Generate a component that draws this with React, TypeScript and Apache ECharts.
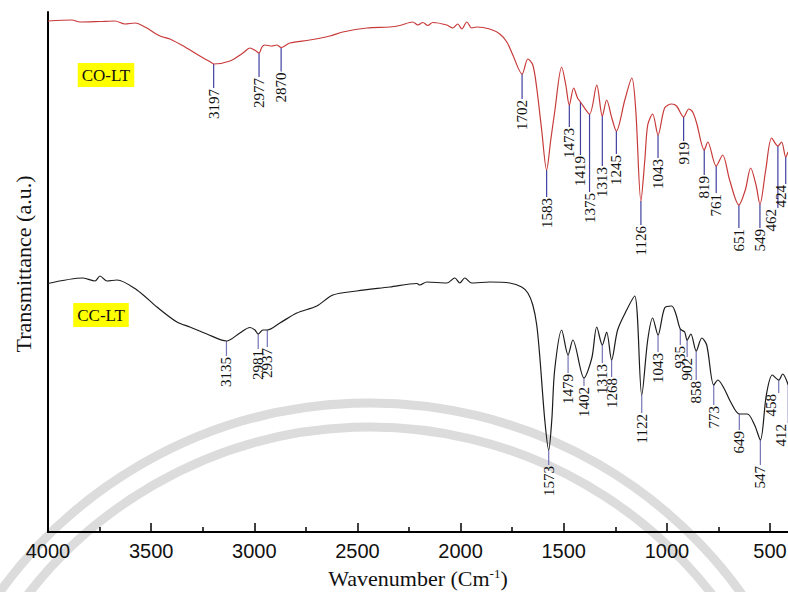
import React, { useEffect, useRef } from 'react';
import * as echarts from 'echarts';

// CO-LT spectrum (red, upper trace)
const coWavenumbers = [4000,3884,3845,3748,3675,3627,3578,3530,3457,3409,3336,3264,3205,3197,3118,3055,3021,2992,2977,2963,2949,2915,2891,2870,2828,2731,2634,2571,2454,2343,2295,2232,2207,2183,2159,2135,2067,2038,2014,1994,1970,1946,1922,1859,1810,1776,1747,1702,1674,1650,1631,1607,1583,1563,1544,1510,1490,1473,1452,1433,1419,1375,1340,1313,1292,1267,1245,1204,1170,1151,1126,1107,1093,1069,1043,1011,977,953,919,894,875,856,819,802,761,730,696,651,620,594,568,549,521,492,462,444,424,413];
const coTransmittance = [102.2,102.4,102.0,102.1,102.2,101.6,101.8,101.0,99.2,98.6,97.0,95.2,93.8,93.6,94.2,95.8,96.8,96.2,95.8,97.0,97.4,97.2,97.4,96.9,97.8,98.4,99.2,100.0,100.8,101.0,101.3,102.0,101.4,101.9,101.3,101.9,101.4,100.8,101.6,100.6,102.0,100.8,101.0,100.6,99.6,98.0,95.4,91.6,94.6,93.4,88.8,80.4,72.4,78.4,84.0,93.0,89.4,85.4,88.8,86.8,86.0,83.6,89.4,83.2,86.4,82.8,80.2,86.4,90.8,84.4,66.2,74.4,81.4,83.6,79.4,84.8,85.6,85.2,83.0,84.6,84.0,81.8,76.4,78.0,73.2,75.4,70.4,65.4,68.4,72.8,69.4,65.6,72.4,78.8,77.2,78.0,75.0,76.0];

// CC-LT spectrum (black, lower trace)
const ccWavenumbers = [4000,3830,3772,3748,3714,3666,3569,3472,3375,3312,3230,3135,3070,3021,2997,2981,2958,2937,2876,2794,2697,2619,2503,2343,2212,2198,2164,2067,2028,2004,1980,1946,1859,1762,1704,1674,1650,1631,1616,1592,1573,1558,1544,1510,1479,1456,1402,1364,1340,1313,1292,1268,1239,1195,1156,1122,1093,1069,1043,1011,977,958,935,914,902,884,858,831,807,773,753,724,691,649,610,575,547,518,489,458,439,412];
const ccTransmittance = [49.7,50.8,50.2,51.2,50.2,50.4,48.4,45.0,42.0,41.0,39.6,38.2,39.8,40.9,40.4,39.6,40.4,40.4,41.8,43.8,45.2,47.4,48.2,49.0,49.7,49.4,50.0,49.8,50.8,49.8,50.8,49.8,50.0,49.8,49.0,47.8,45.4,41.4,35.0,22.4,16.4,22.4,32.4,40.4,35.4,38.4,30.8,34.8,41.0,37.4,40.0,34.4,40.4,44.4,47.2,27.4,38.4,42.8,39.4,44.8,45.2,43.8,40.6,40.0,38.4,39.6,36.2,38.8,37.4,29.4,30.4,28.8,26.0,23.6,23.6,21.4,18.4,27.4,31.4,30.4,31.6,29.4];

// labelled bands
const coPeaks = [3197,2977,2870,1702,1583,1473,1419,1375,1313,1245,1126,1043,919,819,761,651,549,462,424];
const ccPeaks = [3135,2981,2937,1573,1479,1402,1313,1268,1122,1043,935,902,858,773,649,547,458,412];

// axis ticks
const xTickLabels = [4000,3500,3000,2500,2000,1500,1000,500];
const xMinorTicks = [3750,3250,2750,2250,1750,1250,750];

// layout: stem length (px) below each labelled band, and small label nudges (px)
const coStem = [24,24,24,25,27,22,53,78,50,23,24,23,24,25,27,23,24,62,27];
const ccStem = [15,15,17,15,18,8,18,17,18,17,16,17,29,20,16,25,13,38];
const coLabelNudge: Record<number, number> = { 462: -7 };
const ccLabelNudge: Record<number, number> = { 458: -8 };

function interp(wns: number[], vals: number[], w: number): number {
  for (let i = 0; i < wns.length - 1; i++) {
    const a = wns[i], b = wns[i + 1];
    if ((w <= a && w >= b)) {
      const t = a === b ? 0 : (a - w) / (a - b);
      return vals[i] + t * (vals[i + 1] - vals[i]);
    }
  }
  return vals[vals.length - 1];
}

const SERIF = '"Liberation Serif", "Times New Roman", serif';
const SANS = '"Liberation Sans", Arial, sans-serif';
const CHART_W = 788;

function peakRenderer(stroke: string, nudge: Record<number, number>) {
  return (_params: any, api: any) => {
    const wn = api.value(0);
    const p = api.coord([wn, api.value(1)]);
    const len = api.value(2);
    const tx = Math.min(p[0] + (nudge[wn] || 0), CHART_W - 7);
    return {
      type: 'group',
      children: [
        {
          type: 'line',
          shape: { x1: p[0], y1: p[1], x2: p[0], y2: p[1] + len },
          style: { stroke, lineWidth: 1.2 },
        },
        {
          type: 'text',
          x: tx,
          y: p[1] + len + 1,
          rotation: Math.PI / 2,
          style: {
            text: String(wn),
            fill: '#111',
            fontSize: 15,
            fontFamily: SERIF,
            align: 'right',
            verticalAlign: 'middle',
          },
        },
      ],
    };
  };
}

export default function App() {
  const ref = useRef<HTMLDivElement>(null);
  useEffect(() => {
    const chart = echarts.init(ref.current!, null, { renderer: 'svg' });
    const coData = coWavenumbers.map((w, i) => [w, coTransmittance[i]]);
    const ccData = ccWavenumbers.map((w, i) => [w, ccTransmittance[i]]);
    const coPeakData = coPeaks.map((w, i) => [w, interp(coWavenumbers, coTransmittance, w), coStem[i]]);
    const ccPeakData = ccPeaks.map((w, i) => [w, interp(ccWavenumbers, ccTransmittance, w), ccStem[i]]);

    chart.setOption({
      animation: false,
      backgroundColor: '#ffffff',
      grid: { left: 48, top: 12, right: 0, bottom: 60, containLabel: false, outerBoundsMode: 'none' },
      xAxis: [
        {
          type: 'value',
          inverse: true,
          min: 413,
          max: 4000,
          position: 'bottom',
          axisLine: { show: true, onZero: false, lineStyle: { color: '#000', width: 2 } },
          axisTick: { show: true, inside: true, length: 9, customValues: xTickLabels, lineStyle: { color: '#000', width: 1.5 } },
          axisLabel: {
            customValues: xTickLabels,
            formatter: (v: number) => String(v),
            color: '#111',
            fontSize: 20,
            fontFamily: SANS,
            margin: 9,
          },
          splitLine: { show: false },
          name: 'Wavenumber (Cm{sup|-1})',
          nameLocation: 'middle',
          nameGap: 35,
          nameTextStyle: {
            color: '#111',
            fontSize: 22,
            fontFamily: SERIF,
            rich: { sup: { fontSize: 13, fontFamily: SERIF, color: '#111', verticalAlign: 'top' } },
          },
        },
        {
          type: 'value',
          inverse: true,
          min: 413,
          max: 4000,
          position: 'bottom',
          axisLine: { show: false, onZero: false },
          axisTick: { show: true, inside: true, length: 5, customValues: xMinorTicks, lineStyle: { color: '#000', width: 1.5 } },
          axisLabel: { show: false },
          splitLine: { show: false },
        },
      ],
      yAxis: {
        type: 'value',
        min: 0,
        max: 104,
        axisLine: { show: true, onZero: false, lineStyle: { color: '#000', width: 2 } },
        axisTick: { show: false },
        axisLabel: { show: false },
        splitLine: { show: false },
      },
      graphic: [
        {
          type: 'circle',
          z: -10,
          silent: true,
          shape: { cx: 370, cy: 860, r: 457 },
          style: { fill: 'none', stroke: '#dcdcdc', lineWidth: 9 },
        },
        {
          type: 'circle',
          z: -10,
          silent: true,
          shape: { cx: 370, cy: 860, r: 433 },
          style: { fill: 'none', stroke: '#dcdcdc', lineWidth: 9 },
        },
        {
          type: 'text',
          x: 23,
          y: 264,
          rotation: Math.PI / 2,
          style: { text: 'Transmittance (a.u.)', fill: '#111', fontSize: 22, fontFamily: SERIF, align: 'center', verticalAlign: 'middle' },
        },
        {
          type: 'text',
          x: 106,
          y: 75,
          style: { text: 'CO-LT', fill: '#111', fontSize: 17, fontFamily: SERIF, align: 'center', verticalAlign: 'middle', backgroundColor: '#ffff00', padding: [4, 4, 3, 4] },
        },
        {
          type: 'text',
          x: 101,
          y: 315,
          style: { text: 'CC-LT', fill: '#111', fontSize: 17, fontFamily: SERIF, align: 'center', verticalAlign: 'middle', backgroundColor: '#ffff00', padding: [4, 4, 3, 4] },
        },
      ],
      series: [
        {
          name: 'CO-LT',
          type: 'line',
          data: coData,
          showSymbol: false,
          symbol: 'none',
          smooth: 0.3,
          lineStyle: { color: '#c83a3a', width: 1.2 },
          z: 3,
        },
        {
          name: 'CC-LT',
          type: 'line',
          data: ccData,
          showSymbol: false,
          symbol: 'none',
          smooth: 0.3,
          lineStyle: { color: '#1c1c1c', width: 1.2 },
          z: 3,
        },
        {
          name: 'CO-LT bands',
          type: 'custom',
          data: coPeakData,
          encode: { x: 0, y: 1 },
          renderItem: peakRenderer('#4040a0', coLabelNudge),
          z: 2,
        },
        {
          name: 'CC-LT bands',
          type: 'custom',
          data: ccPeakData,
          encode: { x: 0, y: 1 },
          renderItem: peakRenderer('#7474b8', ccLabelNudge),
          z: 2,
        },
      ],
    });
    return () => chart.dispose();
  }, []);
  return (
    <div
      ref={ref}
      style={{ position: 'absolute', left: 0, top: 0, width: 788, height: 592, background: '#fff' }}
    />
  );
}
